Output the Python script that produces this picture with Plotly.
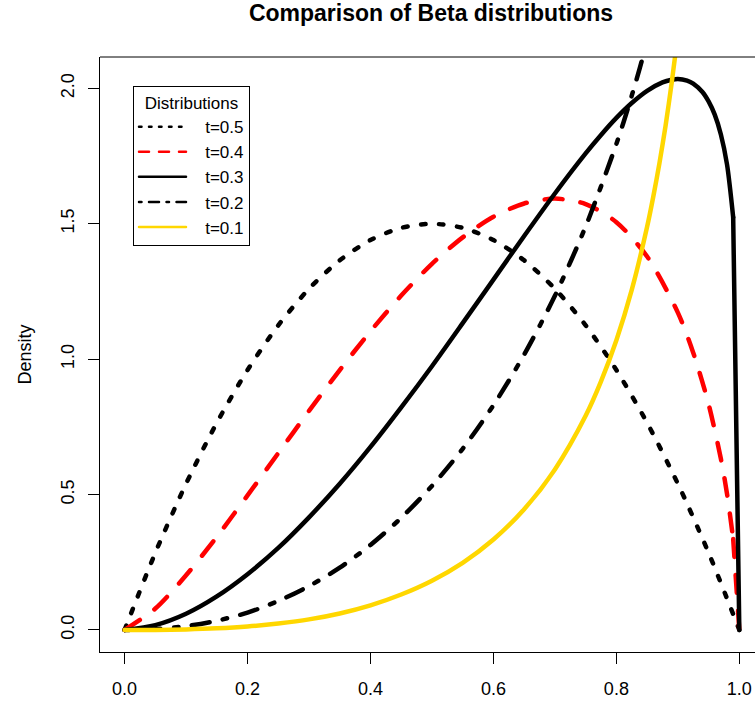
import plotly.graph_objects as go

# ---- data (densities) ----
x_t05 = [0.0, 0.05, 0.1, 0.15, 0.2, 0.25, 0.3, 0.35, 0.4, 0.45, 0.5, 0.55, 0.6, 0.65, 0.7, 0.75, 0.8, 0.85, 0.9, 0.95, 1.0]
y_t05 = [0.0, 0.285, 0.54, 0.765, 0.96, 1.125, 1.26, 1.365, 1.44, 1.485, 1.5, 1.485, 1.44, 1.365, 1.26, 1.125, 0.96, 0.765, 0.54, 0.285, 0.0]

x_t04 = [0.0, 0.05, 0.1, 0.15, 0.2, 0.25, 0.3, 0.35, 0.4, 0.45, 0.5, 0.55, 0.6, 0.65, 0.7, 0.75, 0.8, 0.85, 0.9, 0.925, 0.95, 0.97, 0.98, 0.99, 1.0]
y_t04 = [0.0, 0.079, 0.202, 0.344, 0.497, 0.653, 0.809, 0.960, 1.103, 1.235, 1.352, 1.450, 1.526, 1.575, 1.593, 1.573, 1.506, 1.379, 1.172, 1.024, 0.834, 0.632, 0.503, 0.336, 0.0]

x_t03 = [0.0, 0.05, 0.1, 0.15, 0.2, 0.25, 0.3, 0.35, 0.4, 0.45, 0.5, 0.55, 0.6, 0.65, 0.7, 0.75, 0.775, 0.8, 0.825, 0.85, 0.875, 0.89, 0.9, 0.915, 0.925, 0.94, 0.95, 0.96, 0.97, 0.98, 0.99, 1.0]
y_t03 = [0.0, 0.018, 0.060, 0.124, 0.206, 0.303, 0.416, 0.540, 0.676, 0.822, 0.974, 1.133, 1.294, 1.455, 1.612, 1.760, 1.828, 1.891, 1.946, 1.991, 2.022, 2.032, 2.035, 2.029, 2.018, 1.987, 1.952, 1.903, 1.830, 1.719, 1.524, 0.0]

x_t02 = [0.0, 0.05, 0.1, 0.15, 0.2, 0.25, 0.3, 0.35, 0.4, 0.45, 0.5, 0.55, 0.6, 0.65, 0.7, 0.75, 0.8, 0.825, 0.85, 0.875, 0.9]
y_t02 = [0.0, 0.003, 0.014, 0.034, 0.064, 0.107, 0.162, 0.230, 0.314, 0.414, 0.532, 0.669, 0.830, 1.017, 1.234, 1.490, 1.795, 1.973, 2.173, 2.402, 2.673]

x_t01 = [0.0, 0.05, 0.1, 0.15, 0.2, 0.25, 0.3, 0.35, 0.4, 0.45, 0.5, 0.55, 0.6, 0.65, 0.7, 0.75, 0.775, 0.8, 0.825, 0.85, 0.86, 0.87, 0.88, 0.89, 0.9, 0.91]
y_t01 = [0.0, 0.0003, 0.002, 0.006, 0.013, 0.024, 0.039, 0.061, 0.091, 0.131, 0.182, 0.248, 0.334, 0.446, 0.593, 0.791, 0.918, 1.070, 1.256, 1.489, 1.600, 1.723, 1.862, 2.021, 2.203, 2.415]

series_names = ["t=0.5", "t=0.4", "t=0.3", "t=0.2", "t=0.1"]
x_ticks = [0.0, 0.2, 0.4, 0.6, 0.8, 1.0]
y_ticks = [0.0, 0.5, 1.0, 1.5, 2.0]

FONT = "Liberation Sans, Arial, Helvetica, sans-serif"
FS = 18
LFS = 17
LW = 4.5
LW_LEG = 2.5
NBSP = "\u00a0"

styles = [
    dict(color="black", dash="4.5px,13.5px", leg_dash="2.5px,7.5px"),
    dict(color="#FF0000", dash="18px,18px", leg_dash="10px,10px"),
    dict(color="black", dash="solid", leg_dash="solid"),
    dict(color="black", dash="4.5px,13.5px,18px,13.5px", leg_dash="2.5px,7.5px,10px,7.5px"),
    dict(color="#FFD700", dash="solid", leg_dash="solid"),
]
xs = [x_t05, x_t04, x_t03, x_t02, x_t01]
ys = [y_t05, y_t04, y_t03, y_t02, y_t01]
# curves whose last step drops straight to zero at x = 1 (kept as a straight segment)
sharp_end = [False, True, True, False, False]

fig = go.Figure()
for name, xv, yv, st, sharp in zip(series_names, xs, ys, styles, sharp_end):
    line = dict(color=st["color"], width=LW, dash=st["dash"], shape="spline", smoothing=0.8)
    if sharp:
        fig.add_trace(go.Scatter(x=xv[:-1], y=yv[:-1], mode="lines", name=name, showlegend=False,
                                 line=line, hoverinfo="skip"))
        fig.add_trace(go.Scatter(x=xv[-2:], y=yv[-2:], mode="lines", name=name, showlegend=False,
                                 line=dict(color=st["color"], width=LW, dash=st["dash"]),
                                 hoverinfo="skip"))
    else:
        fig.add_trace(go.Scatter(x=xv, y=yv, mode="lines", name=name, showlegend=False,
                                 line=line, hoverinfo="skip"))
# legend samples (thinner lines, as in the reference legend)
for name, st in zip(series_names, styles):
    fig.add_trace(go.Scatter(x=[None], y=[None], mode="lines", name=NBSP * 3 + name,
                             showlegend=True,
                             line=dict(color=st["color"], width=LW_LEG, dash=st["leg_dash"])))

fig.update_layout(
    width=755, height=704,
    margin=dict(l=100, r=0, t=57, b=52, autoexpand=False),
    paper_bgcolor="white", plot_bgcolor="white",
    font=dict(family=FONT, size=FS, color="black"),
    title=dict(text="Comparison of Beta distributions", x=431 / 755, xanchor="center",
               y=1 - 13 / 704, yanchor="middle",
               font=dict(family=FONT, size=23, color="black", weight="bold")),
    showlegend=True,
    legend=dict(x=33 / 655, y=(652 - 86) / 595, xanchor="left", yanchor="top",
                bgcolor="white", bordercolor="black", borderwidth=1,
                font=dict(family=FONT, size=LFS, color="black"),
                title=dict(text="Distributions", side="top center",
                           font=dict(family=FONT, size=LFS, color="black")),
                itemwidth=47, traceorder="normal"),
    xaxis=dict(range=[-0.04, 1.0255], tickvals=x_ticks, tickformat=".1f",
               showgrid=False, zeroline=False, showline=True, linecolor="black", linewidth=1,
               ticks="outside", ticklen=11, tickwidth=1, tickcolor="black",
               ticklabelstandoff=9, tickfont=dict(family=FONT, size=FS, color="black")),
    yaxis=dict(range=[-0.0814, 2.116], tickvals=y_ticks, tickformat=".1f",
               showgrid=False, zeroline=False, showline=True, linecolor="black", linewidth=1,
               ticks="outside", ticklen=11, tickwidth=1, tickcolor="black", tickangle=-90,
               ticklabelstandoff=7, tickfont=dict(family=FONT, size=FS, color="black")),
    shapes=[dict(type="line", xref="paper", yref="paper", x0=0, x1=1.05, y0=1, y1=1,
                 line=dict(color="black", width=1))],
    annotations=[dict(text="Density", xref="paper", yref="paper", x=(24 - 100) / 655, y=0.5,
                      xanchor="center", yanchor="middle", textangle=-90, showarrow=False,
                      font=dict(family=FONT, size=FS, color="black"))],
)

post = ("document.body.style.margin='0';"
        "document.querySelectorAll('path.js-line').forEach(function(p){"
        "p.style.strokeLinecap='round';});")
fig.write_html("out.html", post_script=post, config={"displayModeBar": False})
